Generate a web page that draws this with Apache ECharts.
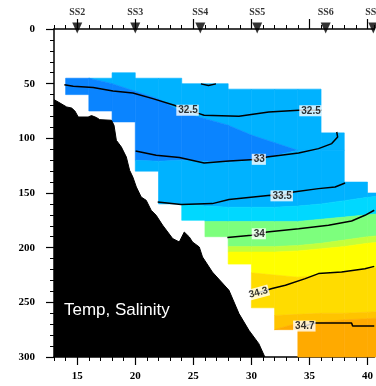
<!DOCTYPE html>
<html>
<head>
<meta charset="utf-8">
<script src="https://cdn.jsdelivr.net/npm/echarts@6/dist/echarts.min.js"></script>
<style>
html, body { margin: 0; padding: 0; background: #fff; }
#chart { width: 376px; height: 386px; }
</style>
</head>
<body>
<div id="chart"></div>
<script>
// cast columns along the section: edges (x) and the depth range each one covers
const nodeX = [14, 16, 18, 20, 22, 24, 26, 28, 30, 32, 34, 36, 38, 40, 42]
const colTop = [45, 45, 40, 45, 45, 50, 50, 55, 55, 55, 55, 95, 140, 150]
const colBottom = [60, 75, 85, 130, 160, 175, 190, 215, 255, 275, 300, 300, 300, 300]

// temperature band limits, depth at every node (top to bottom)
const isoLensTop = [40, 42, 50, 57, 64, 76, 82, 88, 97, 104, 111, 111, 111, 111, 111]
const isoLensBottom = [80, 90, 100, 120, 121, 120, 121, 122, 120, 116, 111, 111, 111, 111, 111]
const isoCyan = [200, 200, 200, 170, 165, 160, 162, 163, 163, 163, 162, 160, 157, 154, 152]
const isoGreen = [300, 300, 300, 300, 300, 300, 176, 176, 176, 176, 176, 174, 172, 170, 168]
const isoLime = [300, 300, 300, 300, 300, 300, 300, 199, 199, 199, 198, 196, 193, 190, 188]
const isoYellow = [300, 300, 300, 300, 300, 300, 300, 204, 204, 204, 203, 201, 199, 196, 194]
const isoGold = [300, 300, 300, 300, 300, 300, 300, 222, 223, 225, 227, 225, 222, 219, 217]
const isoDeepGold = [300, 300, 300, 300, 300, 300, 300, 300, 262, 262, 261, 260, 260, 259, 258]
const isoOrange = [300, 300, 300, 300, 300, 300, 300, 300, 300, 280, 269, 268, 266, 265, 264]

// bottom profile
const terrainX = [13.0, 13.37, 14.09, 14.52, 14.8, 15.09, 15.94, 16.23, 16.66, 16.94, 17.95, 18.17, 18.37, 18.8, 19.23, 19.51, 19.79, 20.09, 20.51, 20.94, 21.37, 21.8, 22.36, 23.22, 23.79, 24.22, 24.65, 24.93, 25.51, 25.79, 26.64, 28.07, 28.93, 29.79, 30.64, 31.16]
const terrainDepth = [64.6, 66.8, 71.3, 72.3, 75.0, 80.5, 80.5, 79.2, 81.0, 82.9, 83.5, 88.1, 101.8, 107.9, 117.1, 129.2, 135.4, 144.5, 153.7, 156.7, 165.8, 170.4, 179.5, 191.7, 194.8, 185.7, 190.2, 194.8, 199.4, 208.5, 222.3, 239.0, 260.3, 275.6, 287.8, 300]

// salinity contours
const sal325 = [[13.89, 50.9], [14.66, 52.4], [16.37, 53.6], [18.08, 56.7], [19.79, 58.5], [21.51, 63.7], [23.36, 69.8], [24.5, 74.3], [25.5, 77.4], [25.93, 78.9], [28.93, 79.8], [31.5, 75.9], [34.07, 74.4], [36.04, 74.4]]
const sal325b = [[25.65, 50.2], [26.3, 51.6], [26.95, 50.2]]
const sal33 = [[20.03, 111.6], [21.8, 115.5], [23.8, 117.6], [25.93, 122.6], [28.07, 120.7], [29.93, 119.5], [30.64, 119.2], [31.33, 117.1], [34.07, 113.4], [35.78, 109.4], [36.92, 104.8], [37.43, 98.8], [37.35, 94.2]]
const sal335 = [[21.93, 158.2], [23.94, 160.6], [26.64, 159.7], [28.07, 156.0], [31.64, 152.1], [32.61, 152.6], [33.63, 149.1], [35.78, 146.0], [37.21, 144.5], [38.07, 140.9]]
const sal34 = [[27.93, 190.8], [30.02, 188.7], [30.64, 187.3], [31.35, 185.7], [34.07, 182.6], [36.64, 179.5], [38.63, 175.6], [39.78, 170.4], [40.58, 165.8]]
const sal343 = [[30.56, 241.3], [31.78, 237.4], [32.93, 234.4], [34.64, 228.3], [35.78, 223.7], [37.77, 222.3], [39.78, 219.2], [40.58, 217.1]]
const sal347 = [[34.56, 271.7], [35.5, 268.9], [38.63, 268.9], [38.72, 271.7], [40.58, 271.7]]
const contourLabels = [[24.5, 74.3, '32.5'], [35.09, 74.8, '32.5'], [30.64, 119.2, '33'], [32.61, 152.6, '33.5'], [30.64, 187.3, '34'], [30.56, 241.3, '34.3'], [34.56, 271.7, '34.7']]

// stations on top axis
const stationNames = ['SS2', 'SS3', 'SS4', 'SS5', 'SS6', 'SS7']
const stationX = [15.0, 20.0, 25.6, 30.5, 36.4, 40.5]

const majorX = [15, 20, 25, 30, 35, 40]

const bandColors = ['#00b2ff', '#0a84ff', '#00b2ff', '#00d8ff', '#7dff7d', '#c4ff3a', '#ffff00', '#ffdc00', '#ffc400', '#ffaa00']
const bounds = [isoLensTop, isoLensBottom, isoCyan, isoGreen, isoLime, isoYellow, isoGold, isoDeepGold, isoOrange]

// one polygon per band per column
const cells = []
for (let i = 0; i < colTop.length; i++) {
  const clamp = v => Math.min(colBottom[i], Math.max(colTop[i], v))
  for (let k = 0; k <= bounds.length; k++) {
    const edge = j => {
      const lo = k === 0 ? -Infinity : bounds[k - 1][j]
      const hi = k === bounds.length ? Infinity : bounds[k][j]
      return [clamp(lo), clamp(hi)]
    }
    const a = edge(i)
    const b = edge(i + 1)
    if (a[1] - a[0] <= 0 && b[1] - b[0] <= 0) continue
    cells.push({
      band: k,
      pts: [[nodeX[i], a[0]], [nodeX[i + 1], b[0]], [nodeX[i + 1], b[1]], [nodeX[i], a[1]]]
    })
  }
}

const axisFont = { fontFamily: 'Liberation Serif', fontWeight: 'bold', fontSize: 11, color: '#000' }
const black = { color: '#000', width: 1.5 }

function contourSeries(data) {
  return {
    type: 'line',
    data: data,
    showSymbol: false,
    symbol: 'none',
    silent: true,
    z: 3,
    lineStyle: { color: '#000', width: 1.5 }
  }
}

const chart = echarts.init(document.getElementById('chart'))

chart.setOption({
  animation: false,
  backgroundColor: '#fff',
  title: {
    text: 'Temp, Salinity',
    left: 64,
    top: 302,
    padding: 0,
    textStyle: { color: '#fff', fontSize: 17, fontWeight: 'normal', fontFamily: 'Liberation Sans' }
  },
  grid: { left: 54, top: 29, right: 0, bottom: 29 },
  xAxis: [{
    type: 'value', position: 'bottom', min: 13, max: 40.6, interval: 1,
    axisLine: { onZero: false, lineStyle: black },
    axisTick: { length: 4, lineStyle: { color: '#000' } },
    axisLabel: Object.assign({ interval: 0, margin: 14, showMaxLabel: false, formatter: v => (v % 5 === 0 ? v : '') }, axisFont),
    splitLine: { show: false }
  }, {
    type: 'value', position: 'bottom', min: 13, max: 40.6,
    axisLine: { show: false, onZero: false },
    axisTick: { customValues: majorX, length: 8, lineStyle: { color: '#000', width: 1.2 } },
    axisLabel: { show: false },
    splitLine: { show: false }
  }, {
    type: 'value', position: 'top', min: 13, max: 40.6, interval: 1,
    axisLine: { onZero: false, lineStyle: black },
    axisTick: { length: 4, lineStyle: { color: '#000' } },
    axisLabel: { show: false },
    splitLine: { show: false }
  }, {
    type: 'value', position: 'top', min: 13, max: 40.6,
    axisLine: { show: false, onZero: false },
    axisTick: { customValues: majorX, length: 10, lineStyle: { color: '#000', width: 1.2 } },
    axisLabel: { show: false },
    splitLine: { show: false }
  }],
  yAxis: {
    type: 'value', inverse: true, min: 0, max: 300, interval: 50,
    axisLine: { show: true, onZero: false, lineStyle: black },
    axisTick: { show: true, length: 8, lineStyle: { color: '#000', width: 1.2 } },
    minorTick: { show: true, splitNumber: 5, length: 4, lineStyle: { color: '#000' } },
    axisLabel: Object.assign({ margin: 19 }, axisFont),
    splitLine: { show: false },
    minorSplitLine: { show: false }
  },
  series: [{
    type: 'custom',
    silent: true,
    z: 1,
    data: cells.map(c => c.pts[0]),
    renderItem: (params, api) => {
      const c = cells[params.dataIndex]
      const col = bandColors[c.band]
      return {
        type: 'polygon',
        shape: { points: c.pts.map(p => api.coord(p)) },
        style: { fill: col, stroke: col, lineWidth: 0.6 }
      }
    }
  }, {
    type: 'line',
    data: terrainX.map((x, i) => [x, terrainDepth[i]]),
    showSymbol: false,
    symbol: 'none',
    silent: true,
    z: 2,
    lineStyle: { color: '#000', width: 1 },
    areaStyle: { color: '#000', opacity: 1, origin: 'end' }
  },
  contourSeries(sal325), contourSeries(sal325b), contourSeries(sal33), contourSeries(sal335),
  contourSeries(sal34), contourSeries(sal343), contourSeries(sal347),
  {
    type: 'scatter',
    symbolSize: 1,
    silent: true,
    z: 4,
    itemStyle: { color: 'rgba(0,0,0,0)' },
    data: contourLabels.map(v => ({ value: v, label: v[2] === '34.3' ? { rotate: 15 } : {} })),
    label: {
      show: true, position: 'inside', formatter: p => p.value[2],
      backgroundColor: '#fff', color: '#000', padding: [1, 1, 0, 2],
      fontFamily: 'Liberation Sans', fontWeight: 'bold', fontSize: 10
    }
  }, {
    type: 'scatter',
    clip: false,
    silent: true,
    z: 5,
    symbol: 'triangle',
    symbolRotate: 180,
    symbolSize: [10, 11],
    symbolOffset: [0, -1],
    itemStyle: { color: '#000' },
    data: stationX.map((x, i) => [x, 0, stationNames[i]]),
    label: {
      show: true, position: 'top', distance: 5, formatter: p => p.value[2],
      fontFamily: 'Liberation Serif', fontWeight: 'bold', fontSize: 10, color: '#000'
    }
  }]
})
</script>
</body>
</html>
